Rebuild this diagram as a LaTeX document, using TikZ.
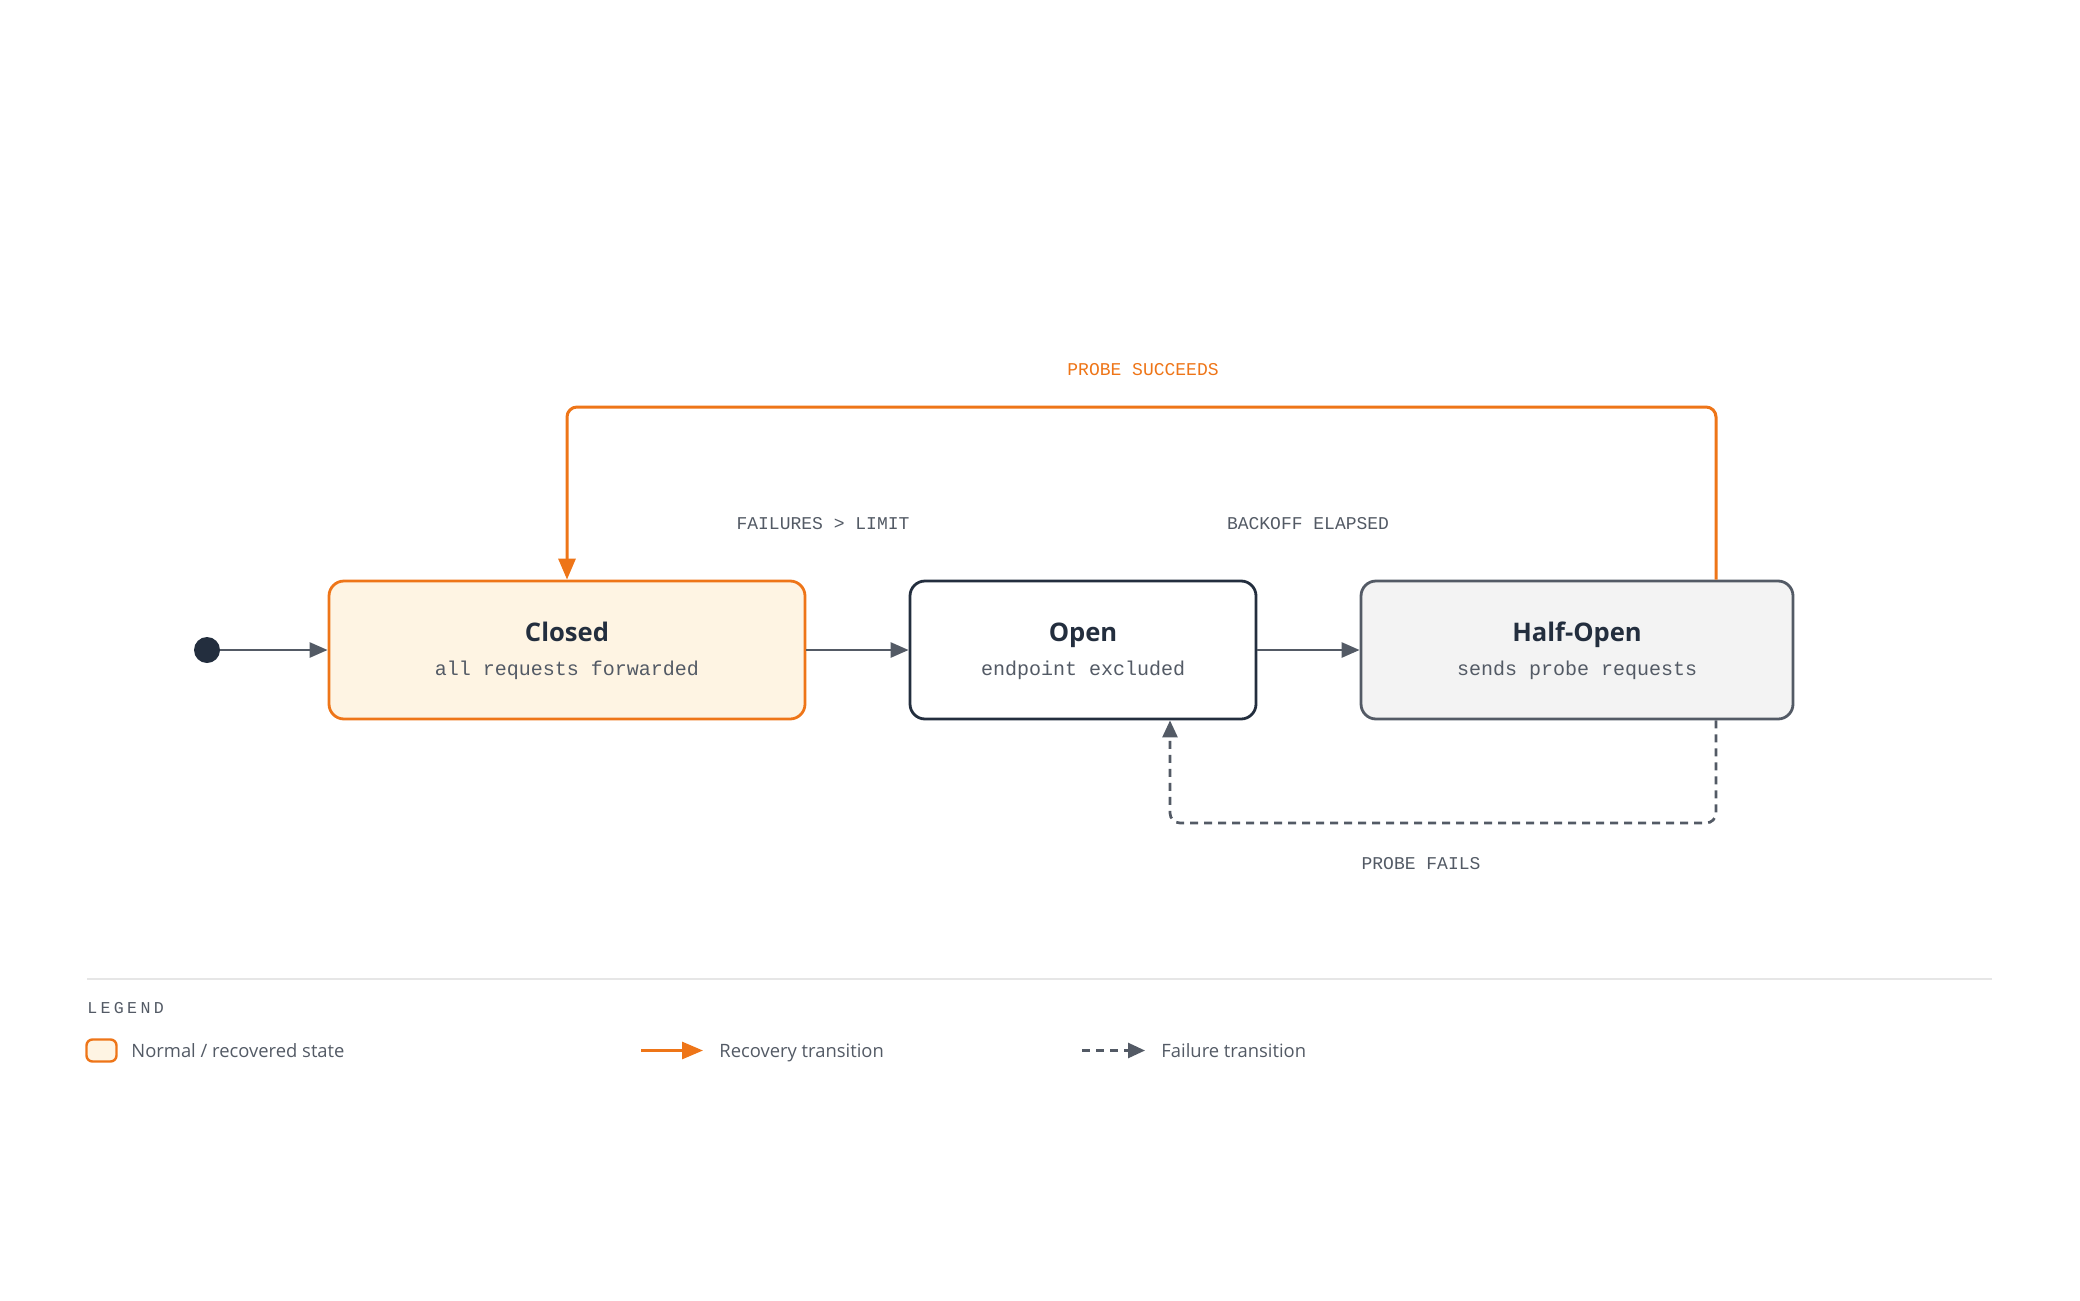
\documentclass[tikz,border=0pt]{standalone}
\usepackage{fontspec}
\usepackage{xcolor}
\setmainfont{Open Sans}
\setmonofont{Liberation Mono}
\newfontfamily\legendmono{Liberation Mono}[LetterSpace=20]
\usetikzlibrary{arrows.meta}
\definecolor{accent}{HTML}{EE7518}
\definecolor{ink}{HTML}{232E3E}
\definecolor{slate}{HTML}{535A65}
\definecolor{cream}{HTML}{FEF4E3}
\definecolor{mist}{HTML}{F3F3F3}
\definecolor{rulegray}{HTML}{E6E6E6}

\begin{document}
\begin{tikzpicture}[x=0.5pt,y=-0.5pt,
	statebox/.style={draw,line width=1.4pt,rounded corners=7.5pt,minimum height=69pt,inner sep=0pt},
	title/.style={font=\bfseries\fontsize{12.8}{15}\selectfont,text=ink,anchor=base,inner sep=0pt},
	sub/.style={font=\ttfamily\fontsize{10}{12}\selectfont,text=slate,anchor=base,inner sep=0pt},
	cond/.style={font=\ttfamily\fontsize{9}{11}\selectfont,text=slate},
	plain/.style={draw=slate,line width=1.35pt,-{Triangle[length=9pt,width=7.5pt]}},
	recover/.style={draw=accent,line width=1.5pt,rounded corners=5pt,-{Triangle[length=10.5pt,width=8.5pt]}},
	fail/.style={draw=slate,line width=1.35pt,dash pattern=on 4pt off 3pt,rounded corners=5pt,-{Triangle[length=8.5pt,width=7.5pt]}},
	legtext/.style={font=\fontsize{9.2}{11}\selectfont,text=slate,anchor=base west,inner sep=0pt}]
\useasboundingbox (0,0) rectangle (2080,1300);

% states
\node[circle,fill=ink,minimum size=13pt,inner sep=0pt] (start) at (207,650) {};
\node[statebox,draw=accent,fill=cream,minimum width=238pt] (closed) at (567,650) {};
\node[statebox,draw=ink,fill=white,minimum width=173pt] (open) at (1083,650) {};
\node[statebox,draw=slate,fill=mist,minimum width=216pt] (half) at (1577,650) {};

\node[title] (closedT) at ([yshift=4.5pt]closed.center) {Closed};
\node[sub] (closedS) at ([yshift=-12.8pt]closed.center) {all requests forwarded};
\node[title] (openT) at ([yshift=4.5pt]open.center) {Open};
\node[sub] (openS) at ([yshift=-12.8pt]open.center) {endpoint excluded};
\node[title] (halfT) at ([yshift=4.5pt]half.center) {Half-Open};
\node[sub] (halfS) at ([yshift=-12.8pt]half.center) {sends probe requests};

% transitions
\draw[plain] (start) -- (closed);
\draw[plain] (closed) -- (open);
\draw[plain] (open) -- (half);

\coordinate (upR) at (1716,407);
\coordinate (upL) at (567,407);
\draw[recover] ([xshift=69.5pt]half.north) -- (upR) -- (upL) -- (closed.north);

\coordinate (downR) at (1716,823);
\coordinate (downL) at (1170,823);
\draw[fail] ([xshift=69.5pt]half.south) -- (downR) -- (downL) -- (downL |- open.south);

\node[cond,text=accent] (succ) at (1143,370) {PROBE SUCCEEDS};
\node[cond] (limit) at (823,524) {FAILURES > LIMIT};
\node[cond] (backoff) at (1308,524) {BACKOFF ELAPSED};
\node[cond] (fails) at (1421,864) {PROBE FAILS};

% legend
\draw[rulegray,line width=1pt] (87,979) coordinate (ruleL) -- (1992,979) coordinate (ruleR);
\node[anchor=west,inner sep=0pt,text=slate,font=\legendmono\fontsize{8.3}{10}\selectfont] (legend) at (87,1008) {LEGEND};

\node[draw=accent,fill=cream,line width=1.2pt,rounded corners=3pt,minimum width=15pt,minimum height=11pt,inner sep=0pt] (swatch) at (101.5,1050.5) {};
\node[legtext] (normal) at (131,1057) {Normal / recovered state};

\coordinate (recA) at (641,1050.5);
\coordinate (recB) at (703,1050.5);
\draw[recover] (recA) -- (recB);
\node[legtext] (recov) at (719,1057) {Recovery transition};

\coordinate (failA) at (1082,1050.5);
\coordinate (failB) at (1145,1050.5);
\draw[fail] (failA) -- (failB);
\node[legtext] (failt) at (1161,1057) {Failure transition};
\end{tikzpicture}
\end{document}
